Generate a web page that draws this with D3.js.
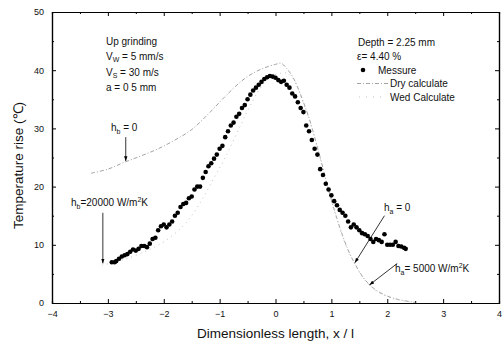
<!DOCTYPE html>
<html>
<head>
<meta charset="utf-8">
<script src="https://cdn.jsdelivr.net/npm/d3@7"></script>
<style>
  body { margin: 0; background: #fff; }
  svg { display: block; font-family: 'Liberation Sans Narrow', 'Liberation Sans', Arial, sans-serif; }
</style>
</head>
<body>
<svg id="chart" width="504" height="346"></svg>
<script>
// measured points (x / l, temperature rise)
const measX = [-2.93,-2.88,-2.85,-2.8,-2.75,-2.7,-2.65,-2.6,-2.55,-2.5,-2.45,-2.4,-2.35,-2.3,-2.25,-2.2,-2.15,-2.1,-2.05,-2.0,-1.95,-1.9,-1.85,-1.8,-1.75,-1.7,-1.65,-1.6,-1.55,-1.5,-1.45,-1.4,-1.35,-1.3,-1.25,-1.2,-1.15,-1.1,-1.05,-1.0,-0.95,-0.9,-0.85,-0.8,-0.75,-0.7,-0.65,-0.6,-0.55,-0.5,-0.45,-0.4,-0.35,-0.3,-0.25,-0.2,-0.15,-0.1,-0.05,0.0,0.05,0.1,0.15,0.2,0.25,0.3,0.35,0.4,0.45,0.5,0.55,0.6,0.65,0.7,0.75,0.8,0.85,0.9,0.95,1.0,1.05,1.1,1.15,1.2,1.25,1.3,1.35,1.4,1.45,1.5,1.55,1.6,1.65,1.7,1.75,1.8,1.85,1.9,1.95,2.0,2.05,2.1,2.15,2.2,2.25,2.3,2.33];
const measY = [7.0,7.0,7.2,7.6,8.0,8.2,8.4,8.8,9.2,9.0,9.3,9.8,9.8,9.6,10.2,11.0,11.2,12.5,13.2,13.5,13.0,13.5,14.0,15.0,15.5,16.5,17.0,17.2,18.0,18.3,19.5,20.0,20.0,21.5,22.5,23.5,24.0,24.8,25.5,26.5,27.0,28.5,29.5,30.5,31.0,32.0,32.5,33.5,34.0,35.0,35.8,36.5,37.0,37.5,38.0,38.5,38.8,39.0,38.9,38.7,38.3,38.0,38.2,37.5,37.0,36.0,35.5,34.5,33.5,32.8,30.5,29.5,28.0,26.5,25.5,23.0,22.0,20.5,19.5,18.5,17.5,16.8,16.0,15.5,15.0,14.0,13.0,13.5,13.0,12.5,12.0,11.8,11.5,11.0,10.5,11.0,10.8,10.5,11.8,10.0,10.0,10.0,10.5,9.8,9.7,9.5,9.3];

// dry calculate (h = 0)
const dryX = [-3.3,-3.0,-2.7,-2.4,-2.1,-1.8,-1.5,-1.2,-0.9,-0.6,-0.4,-0.2,0.0,0.1,0.2,0.3,0.4,0.5,0.6,0.7,0.8,0.9,1.0,1.1,1.2,1.3,1.4,1.5,1.6,1.7,1.8,2.0,2.2,2.5];
const dryY = [22.3,23.0,24.2,25.3,26.5,28.0,29.8,32.5,35.5,38.2,39.5,40.4,41.0,41.2,40.3,39.0,37.0,34.5,31.8,28.5,25.0,21.3,17.7,14.5,11.6,9.1,7.1,5.4,4.0,3.0,2.2,1.2,0.6,0.1];

// wet calculate (h_b = 20000, h_a = 5000 W/m2K)
const wetX = [-3.1,-2.7,-2.3,-2.0,-1.7,-1.5,-1.3,-1.1,-0.9,-0.7,-0.5,-0.3,-0.1,0.1,0.2,0.3,0.4,0.5,0.6,0.7,0.8,0.9,1.0,1.1,1.2,1.3,1.4,1.5,1.6,1.7,1.8,2.0,2.2,2.5];
const wetY = [6.5,7.5,9.0,10.5,12.8,15.0,18.0,21.5,25.0,29.0,33.0,36.5,38.8,39.5,39.5,38.8,36.8,34.3,31.6,28.3,24.8,21.1,17.5,14.3,11.4,9.0,7.0,5.3,3.9,2.9,2.1,1.1,0.5,0.1];

const xTicks = [-4,-3,-2,-1,0,1,2,3,4];
const yTicks = [0,10,20,30,40,50];

const W = 504, H = 346;
const m = { left: 52, right: 5, top: 12, bottom: 43 };
const svg = d3.select('#chart');

const x = d3.scaleLinear().domain([-4, 4]).range([m.left, W - m.right]);
const y = d3.scaleLinear().domain([0, 50]).range([H - m.bottom, m.top]);

const frame = svg.append('g').attr('class', 'frame');

// axes with inward ticks, minor ticks too
const minorX = d3.range(-3.5, 4, 1);
const minorY = d3.range(5, 50, 10);
const addAxis = (axis, tr) => frame.append('g').attr('transform', tr).call(axis);

addAxis(d3.axisBottom(x).tickValues(xTicks).tickSizeInner(-4).tickSizeOuter(0).tickPadding(8)
  .tickFormat(d3.format('d')), `translate(0,${y(0)})`);
addAxis(d3.axisBottom(x).tickValues(minorX).tickSize(-2).tickFormat(''), `translate(0,${y(0)})`);
addAxis(d3.axisTop(x).tickValues(xTicks).tickSizeInner(-4).tickSizeOuter(0).tickFormat(''), `translate(0,${y(50)})`);
addAxis(d3.axisTop(x).tickValues(minorX).tickSize(-2).tickFormat(''), `translate(0,${y(50)})`);
addAxis(d3.axisLeft(y).tickValues(yTicks).tickSizeInner(-4).tickSizeOuter(0).tickPadding(8)
  .tickFormat(d3.format('d')), `translate(${x(-4)},0)`);
addAxis(d3.axisLeft(y).tickValues(minorY).tickSize(-2).tickFormat(''), `translate(${x(-4)},0)`);
addAxis(d3.axisRight(y).tickValues(yTicks).tickSizeInner(-4).tickSizeOuter(0).tickFormat(''), `translate(${x(4)},0)`);
addAxis(d3.axisRight(y).tickValues(minorY).tickSize(-2).tickFormat(''), `translate(${x(4)},0)`);

frame.selectAll('.domain').attr('stroke', '#000').attr('stroke-width', 1.2);
frame.selectAll('.tick line').attr('stroke', '#000');
frame.selectAll('.tick text').attr('font-size', 9).attr('fill', '#111')
  .attr('font-family', "'Liberation Sans Narrow', 'Liberation Sans', Arial, sans-serif");

// calculated curves
const line = d3.line().x(d => x(d[0])).y(d => y(d[1])).curve(d3.curveCatmullRom);
svg.append('path').datum(d3.zip(dryX, dryY)).attr('d', line)
  .attr('fill', 'none').attr('stroke', '#999').attr('stroke-width', 0.9).attr('stroke-dasharray', '4,2,1,2');
svg.append('path').datum(d3.zip(wetX, wetY)).attr('d', line)
  .attr('fill', 'none').attr('stroke', '#bbb').attr('stroke-width', 0.9).attr('stroke-dasharray', '1,4');

// measured
svg.append('g').selectAll('circle').data(d3.zip(measX, measY)).join('circle')
  .attr('cx', d => x(d[0])).attr('cy', d => y(d[1])).attr('r', 2.3).attr('fill', '#000');

// texts
const txt = (px, py, size) => svg.append('text').attr('x', px).attr('y', py)
  .attr('font-size', size).attr('fill', '#111');

txt(106, 45, 10).text('Up grinding');
let t = txt(106, 60, 10); t.append('tspan').text('V');
t.append('tspan').attr('font-size', 7).attr('dy', 2).text('W');
t.append('tspan').attr('dy', -2).text(' = 5 mm/s');
t = txt(106, 76, 10); t.append('tspan').text('V');
t.append('tspan').attr('font-size', 7).attr('dy', 2).text('S');
t.append('tspan').attr('dy', -2).text(' = 30 m/s');
txt(106, 91, 10).text('a  = 0 5 mm');

txt(358, 46, 10).text('Depth = 2.25 mm');
txt(357, 60, 10).text('\u03b5= 4.40 %');

// legend
svg.append('circle').attr('cx', 363).attr('cy', 70).attr('r', 2.3).attr('fill', '#000');
txt(378, 74, 10).text('Messure');
svg.append('line').attr('x1', 357).attr('x2', 388).attr('y1', 83.5).attr('y2', 83.5)
  .attr('stroke', '#999').attr('stroke-width', 0.9).attr('stroke-dasharray', '4,2,1,2');
txt(390, 87, 10).text('Dry calculate');
svg.append('line').attr('x1', 359).attr('x2', 386).attr('y1', 97).attr('y2', 97)
  .attr('stroke', '#bbb').attr('stroke-width', 0.9).attr('stroke-dasharray', '1,6');
txt(390, 101, 10).text('Wed Calculate');

// annotations: label, arrow from/to in data coords
const defs = svg.append('defs');
defs.append('marker').attr('id', 'arr').attr('viewBox', '0 0 10 10').attr('refX', 10).attr('refY', 5)
  .attr('markerWidth', 6).attr('markerHeight', 6).attr('orient', 'auto')
  .append('path').attr('d', 'M0,1.5L10,5L0,8.5z').attr('fill', '#000');

const arrow = (x1, y1, x2, y2) => svg.append('line')
  .attr('x1', x(x1)).attr('y1', y(y1)).attr('x2', x(x2)).attr('y2', y(y2))
  .attr('stroke', '#000').attr('stroke-width', 0.8).attr('marker-end', 'url(#arr)');

const hLabel = (px, py, sub, rest, sup) => {
  const g = txt(px, py, 10);
  g.append('tspan').text('h');
  g.append('tspan').attr('font-size', 7).attr('dy', 3).text(sub);
  g.append('tspan').attr('dy', -3).text(rest);
  if (sup) {
    g.append('tspan').attr('font-size', 7).attr('dy', -4).text('2');
    g.append('tspan').attr('dy', 4).text('K');
  }
};

hLabel(111, 131, 'b', ' = 0');
arrow(-2.68, 28.5, -2.68, 24.4);
hLabel(71, 206, 'b', '=20000 W/m', true);
arrow(-3.09, 15.5, -3.09, 6.8);
hLabel(384, 211, 'a', ' = 0');
arrow(1.95, 15.0, 1.42, 6.9);
hLabel(395, 272, 'a', '= 5000 W/m', true);
arrow(2.18, 6.8, 1.68, 3.1);

// axis titles
svg.append('text').attr('x', (x(-4) + x(4)) / 2).attr('y', 338).attr('text-anchor', 'middle')
  .attr('font-size', 13.5).attr('fill', '#111').text('Dimensionless length, x / l');
svg.append('text').attr('transform', `translate(23,${(y(0) + y(50)) / 2 + 8}) rotate(-90)`)
  .attr('text-anchor', 'middle').attr('font-size', 13.5).attr('fill', '#111').text('Temperature rise (\u2103)');
</script>
</body>
</html>
